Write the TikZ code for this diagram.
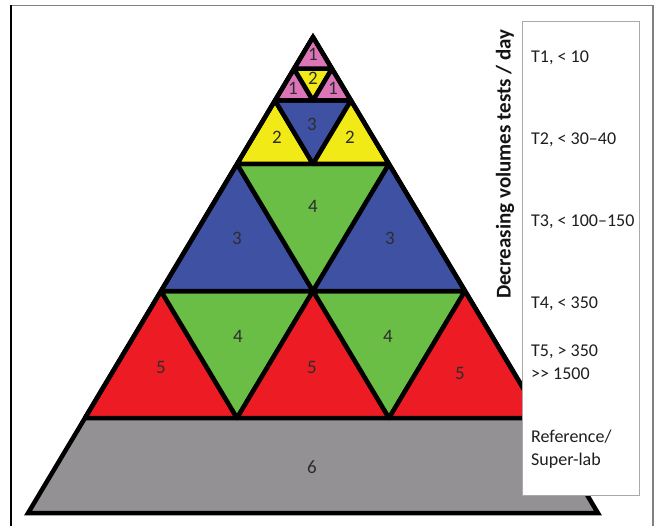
\documentclass[tikz,border=0pt]{standalone}
\usepackage{fontspec}
\setmainfont{Carlito}
\begin{document}
\begin{tikzpicture}[x=1pt,y=-1pt,
  tri/.style={draw=black, line width=4.5pt, line join=round},
  outline/.style={draw=black, line width=4.5pt, line join=miter},
  num/.style={text={rgb,255:red,45;green,45;blue,45}, font=\fontsize{19}{22}\selectfont, inner sep=0pt},
  lvl/.style={anchor=base west, align=left, inner sep=0pt, font=\fontsize{18}{23}\selectfont, text={rgb,255:red,30;green,30;blue,30}}]
\definecolor{pinkT}{RGB}{219,117,183}
\definecolor{yellowT}{RGB}{242,234,22}
\definecolor{blueT}{RGB}{63,81,163}
\definecolor{greenT}{RGB}{106,189,69}
\definecolor{redT}{RGB}{237,28,36}
\definecolor{grayT}{RGB}{147,145,148}
\definecolor{frameG}{RGB}{128,128,128}
\definecolor{boxG}{RGB}{170,170,170}
\useasboundingbox (0,0) rectangle (660,526);
\clip (0,0) rectangle (660,526);
% outer frame
\draw[frameG, line width=1.6pt] (11,5.5) -- (653,5.5) -- (653,530);
\draw[black, line width=1.2pt] (11,530) -- (11,5.5);
% base trapezoid
\fill[grayT] (85,418) -- (541,418) -- (597.9,513) -- (28.1,513) -- cycle;
\draw[tri] (85,418) -- (541,418);
% bottom row
\filldraw[tri, fill=redT] (161,291) -- (85,418) -- (237,418) -- cycle;
\filldraw[tri, fill=greenT] (161,291) -- (313,291) -- (237,418) -- cycle;
\filldraw[tri, fill=redT] (313,291) -- (237,418) -- (389,418) -- cycle;
\filldraw[tri, fill=greenT] (313,291) -- (465,291) -- (389,418) -- cycle;
\filldraw[tri, fill=redT] (465,291) -- (389,418) -- (541,418) -- cycle;
% middle row
\filldraw[tri, fill=blueT] (237,164) -- (161,291) -- (313,291) -- cycle;
\filldraw[tri, fill=greenT] (237,164) -- (389,164) -- (313,291) -- cycle;
\filldraw[tri, fill=blueT] (389,164) -- (313,291) -- (465,291) -- cycle;
% top triangle
\filldraw[tri, fill=yellowT] (275,100.5) -- (237,164) -- (313,164) -- cycle;
\filldraw[tri, fill=blueT] (275,100.5) -- (351,100.5) -- (313,164) -- cycle;
\filldraw[tri, fill=yellowT] (351,100.5) -- (313,164) -- (389,164) -- cycle;
\filldraw[tri, fill=pinkT] (294,68.75) -- (275,100.5) -- (313,100.5) -- cycle;
\filldraw[tri, fill=yellowT] (294,68.75) -- (332,68.75) -- (313,100.5) -- cycle;
\filldraw[tri, fill=pinkT] (332,68.75) -- (313,100.5) -- (351,100.5) -- cycle;
\filldraw[tri, fill=pinkT] (313,37) -- (294,68.75) -- (332,68.75) -- cycle;
% overall outline
\draw[outline] (313,37) -- (28.1,513) -- (597.9,513) -- cycle;
% numbers
\node[num] (n1a) at (313,54) {1};
\node[num] (n2a) at (313,78) {2};
\node[num] (n1b) at (293,88) {1};
\node[num] (n1c) at (333,88) {1};
\node[num] (n3a) at (312,124) {3};
\node[num] (n2b) at (277,137) {2};
\node[num] (n2c) at (350,137) {2};
\node[num] (n4a) at (313,206) {4};
\node[num] (n3b) at (237,238) {3};
\node[num] (n3c) at (390,238) {3};
\node[num] (n4b) at (238,336) {4};
\node[num] (n4c) at (388,336) {4};
\node[num] (n5a) at (161,367) {5};
\node[num] (n5b) at (312,367) {5};
\node[num] (n5c) at (460,373) {5};
\node[num] (n6) at (312,467) {6};
% legend box
\filldraw[draw=boxG, fill=white, line width=1pt] (522.5,22) rectangle (639,495);
\node[rotate=90, inner sep=0pt, font=\fontsize{21}{24}\selectfont\bfseries, text={rgb,255:red,20;green,20;blue,20}] (title) at (505,164) {Decreasing volumes tests / day};
\node[lvl] (t1) at (531,63) {T1, < 10};
\node[lvl] (t2) at (531,145) {T2, < 30–40};
\node[lvl] (t3) at (531,227) {T3, < 100–150};
\node[lvl] (t4) at (531,308) {T4, < 350};
\node[lvl] (t5) at (531,379) {T5, > 350\\{>}{>} 1500};
\node[lvl] (t6) at (531,465) {Reference/\\Super-lab};
\end{tikzpicture}
\end{document}
